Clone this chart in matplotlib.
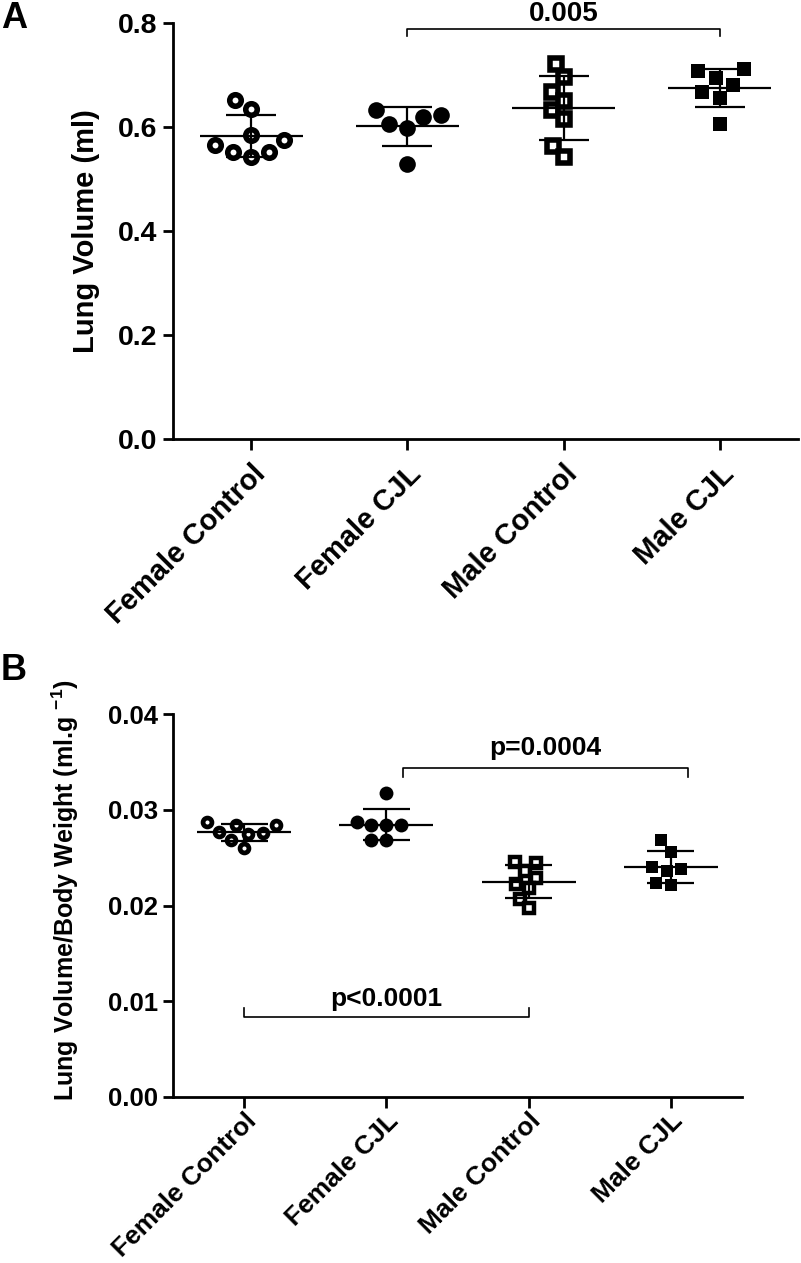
import matplotlib
matplotlib.use("Agg")
import matplotlib.pyplot as plt
import numpy as np

plt.rcParams['font.family'] = ['Liberation Sans', 'DejaVu Sans']
plt.rcParams['font.weight'] = 'bold'
plt.rcParams['mathtext.fontset'] = 'custom'
plt.rcParams['mathtext.rm'] = 'Liberation Sans:bold'
plt.rcParams['mathtext.bf'] = 'Liberation Sans:bold'
plt.rcParams['mathtext.it'] = 'Liberation Sans:bold'
plt.rcParams['mathtext.default'] = 'bf'

# ---------------- data ----------------
categories = ['Female Control', 'Female CJL', 'Male Control', 'Male CJL']

# Panel A: lung volume (ml)
a_female_control = [0.634, 0.652, 0.584, 0.575, 0.552, 0.542, 0.552, 0.565]
a_female_cjl = [0.623, 0.605, 0.598, 0.620, 0.632, 0.528]
a_male_control = [0.722, 0.697, 0.668, 0.632, 0.650, 0.615, 0.563, 0.542]
a_male_cjl = [0.711, 0.695, 0.708, 0.668, 0.681, 0.655, 0.605]
a_yticks = [0.0, 0.2, 0.4, 0.6, 0.8]
a_yticklabels = ['0.0', '0.2', '0.4', '0.6', '0.8']
a_pvalue = '0.005'

# Panel B: lung volume / body weight (ml/g)
b_female_control = [0.0287, 0.0284, 0.0284, 0.0277, 0.0276, 0.0275, 0.0268, 0.0260]
b_female_cjl = [0.0317, 0.0284, 0.0284, 0.0284, 0.0287, 0.0268, 0.0268]
b_male_control = [0.0245, 0.0244, 0.0236, 0.0229, 0.0222, 0.0218, 0.0207, 0.0197]
b_male_cjl = [0.0268, 0.0256, 0.0240, 0.0238, 0.0236, 0.0224, 0.0221]
b_yticks = [0.00, 0.01, 0.02, 0.03, 0.04]
b_yticklabels = ['0.00', '0.01', '0.02', '0.03', '0.04']
b_pvalue_top = 'p=0.0004'
b_pvalue_bottom = 'p<0.0001'

# ---------------- helpers ----------------
def swarm_offsets(ax, xc, vals, d_px):
    """Beeswarm: place points (sorted by value) at the nearest non-overlapping x."""
    vals = np.asarray(vals, float)
    pts = ax.transData.transform(np.column_stack([np.full(len(vals), xc), vals]))
    ypx = pts[:, 1]
    px_per_x = ax.transData.transform([[1, 0]])[0, 0] - ax.transData.transform([[0, 0]])[0, 0]
    order = np.argsort(vals, kind='stable')
    placed = []
    offs = np.zeros(len(vals))
    for i in order:
        y = ypx[i]
        nb = [(xj, yj) for xj, yj in placed if abs(yj - y) < d_px]
        cands = [0.0]
        for xj, yj in nb:
            dx = np.sqrt(d_px ** 2 - (y - yj) ** 2)
            cands += [xj - dx, xj + dx]
        cands = sorted(cands, key=lambda c: (round(abs(c), 4), c))
        for c in cands:
            if all(np.hypot(c - xj, y - yj) >= d_px - 1e-6 for xj, yj in nb):
                break
        placed.append((c, y))
        offs[i] = c
    return xc + offs / px_per_x


def draw_panel(ax, groups, styles, ylim, yticks, yticklabels, tick_fs, xtick_fs, xpad,
               d_px, mean_hw, cap_hw):
    ax.set_xlim(-0.5, 3.5)
    ax.set_ylim(*ylim)
    for s in ['top', 'right']:
        ax.spines[s].set_visible(False)
    for s in ['left', 'bottom']:
        ax.spines[s].set_linewidth(2.0)
    ax.set_yticks(yticks)
    ax.set_yticklabels(yticklabels, fontsize=tick_fs, fontweight='bold')
    ax.set_xticks(range(len(categories)))
    ax.set_xticklabels(categories, fontsize=xtick_fs, fontweight='bold', rotation=45,
                       ha='right', va='top', rotation_mode='anchor')
    ax.tick_params(axis='both', width=2.0, length=7, direction='out', pad=4)
    ax.tick_params(axis='x', pad=xpad, length=8)
    for i, (vals, st) in enumerate(zip(groups, styles)):
        xs = swarm_offsets(ax, i, vals, d_px[i])
        ax.plot(xs, vals, linestyle='none', marker=st['marker'], ms=st['ms'],
                mew=st['mew'], mec='black', mfc=st['mfc'], zorder=2, clip_on=False)
        m = np.mean(vals)
        sd = np.std(vals, ddof=1)
        ax.hlines(m, i - mean_hw, i + mean_hw, color='black', lw=1.6, zorder=3)
        ax.hlines([m - sd, m + sd], i - cap_hw, i + cap_hw, color='black', lw=1.6, zorder=3)
        ax.vlines(i, m - sd, m + sd, color='black', lw=1.6, zorder=3)


fig = plt.figure(figsize=(8.01, 12.63), dpi=100)
W, H = 801.0, 1263.0
axA = fig.add_axes([173 / W, 1 - 439 / H, 625 / W, 416 / H])
axB = fig.add_axes([173 / W, 1 - 1097 / H, 569 / W, 383 / H])

stylesA = [dict(marker='o', ms=8.3, mew=4.0, mfc='white'),
           dict(marker='o', ms=12.0, mew=0.0, mfc='black'),
           dict(marker='s', ms=9.0, mew=4.0, mfc='white'),
           dict(marker='s', ms=9.7, mew=0.0, mfc='black')]
stylesB = [dict(marker='o', ms=6.4, mew=3.4, mfc='white'),
           dict(marker='o', ms=10.0, mew=0.0, mfc='black'),
           dict(marker='s', ms=6.8, mew=3.2, mfc='white'),
           dict(marker='s', ms=9.0, mew=0.0, mfc='black')]

draw_panel(axA, [a_female_control, a_female_cjl, a_male_control, a_male_cjl], stylesA,
           (0, 0.8), a_yticks, a_yticklabels, 20.5, 21, 7, [19, 19, 15, 19], 0.33, 0.16)
draw_panel(axB, [b_female_control, b_female_cjl, b_male_control, b_male_cjl], stylesB,
           (0, 0.04), b_yticks, b_yticklabels, 18.5, 19, 0.5, [15, 15, 13, 15], 0.33, 0.165)

# y labels
fig.text(86 / W, 1 - 231 / H, 'Lung Volume (ml)', rotation=90, ha='center', va='center',
         fontsize=21, fontweight='bold')
fig.text(65 / W, 1 - 890 / H, 'Lung Volume/Body Weight (ml.g $^{-1}$)', rotation=90,
         ha='center', va='center', fontsize=18, fontweight='bold')

# panel letters
fig.text(14 / W, 1 - 19 / H, 'A', ha='center', va='center', fontsize=26, fontweight='bold')
fig.text(14 / W, 1 - 670 / H, 'B', ha='center', va='center', fontsize=26, fontweight='bold')

# significance brackets
axA.plot([1, 1, 3, 3], [0.775, 0.788, 0.788, 0.775], color='black', lw=1.2, clip_on=False)
axA.text(2, 0.818, a_pvalue, ha='center', va='center', fontsize=20, fontweight='bold', clip_on=False)

axB.plot([1.12, 1.12, 3.12, 3.12], [0.0334, 0.03436, 0.03436, 0.0334], color='black', lw=1.2)
axB.text(2.12, 0.03645, b_pvalue_top, ha='center', va='center', fontsize=19, fontweight='bold')
axB.plot([0, 0, 2, 2], [0.0093, 0.00836, 0.00836, 0.0093], color='black', lw=1.2)
axB.text(1, 0.0102, b_pvalue_bottom, ha='center', va='center', fontsize=19, fontweight='bold')

fig.savefig('out.png', dpi=100)
